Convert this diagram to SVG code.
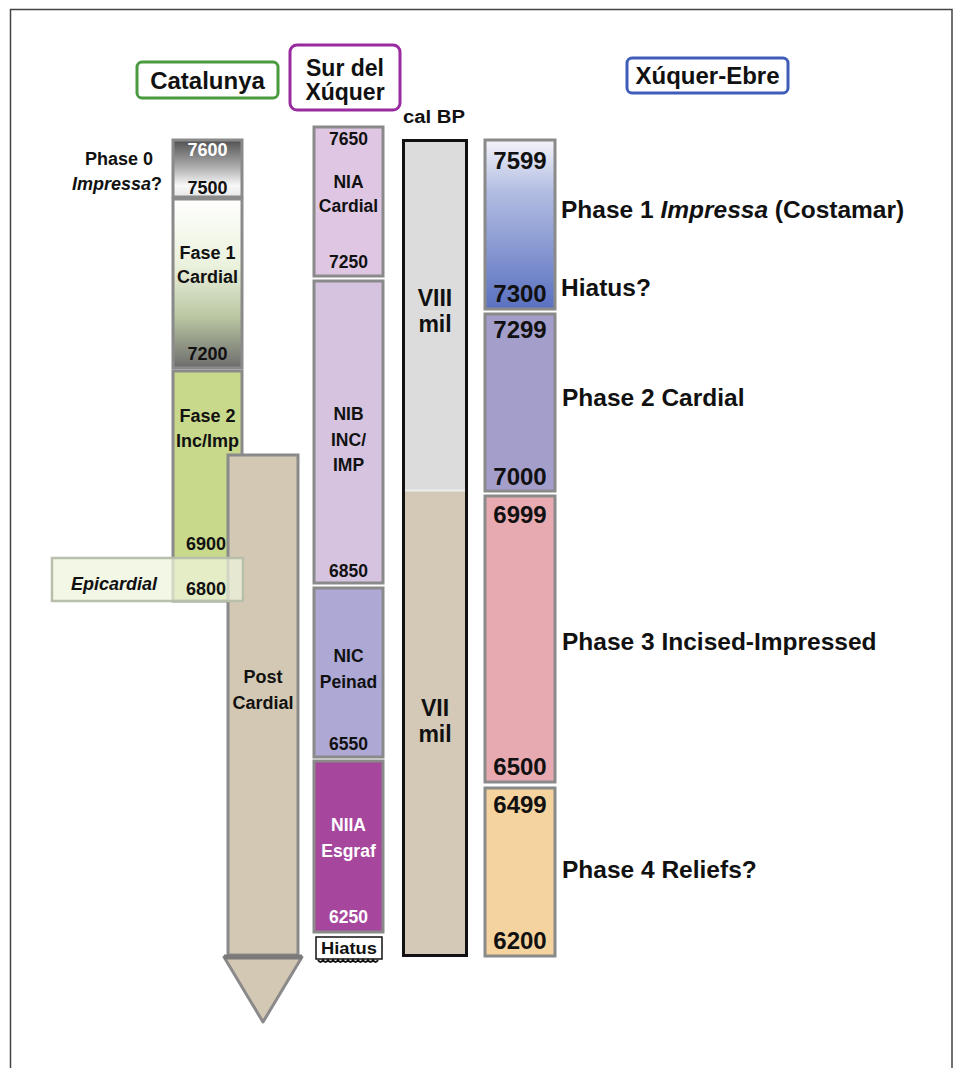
<svg xmlns="http://www.w3.org/2000/svg" width="954" height="1068" viewBox="0 0 954 1068">
<defs>
<linearGradient id="gP0" x1="0" y1="0" x2="0" y2="1">
<stop offset="0" stop-color="#505050"/><stop offset="0.45" stop-color="#a8a8a8"/><stop offset="0.8" stop-color="#f8f8f8"/><stop offset="1" stop-color="#e6e6e6"/>
</linearGradient>
<linearGradient id="gF1" x1="0" y1="0" x2="0" y2="1">
<stop offset="0" stop-color="#ffffff"/><stop offset="0.4" stop-color="#eaf1dc"/><stop offset="0.7" stop-color="#b9c6a2"/><stop offset="1" stop-color="#6c6c6c"/>
</linearGradient>
<linearGradient id="gX1" x1="0" y1="0" x2="0" y2="1">
<stop offset="0" stop-color="#f4f4fa"/><stop offset="0.3" stop-color="#b3bde2"/><stop offset="1" stop-color="#5a71c0"/>
</linearGradient>
<style>
text{font-family:"Liberation Sans",Arial,Helvetica,sans-serif;font-weight:bold;fill:#111}
.box{stroke:#8a8a8a;stroke-width:3}
.c{text-anchor:middle}
.s18{font-size:18px}
.s17{font-size:17.5px}
.s24{font-size:24px}
.s245{font-size:24.5px}
.s23{font-size:23px}
.w{fill:#fff}
.hdr{fill:#fff;stroke-width:3}
</style>
</defs>
<path d="M10.5 1068 V9.5 H952 V1068" fill="none" stroke="#444" stroke-width="1.5"/>

<g id="headers">
<rect x="137" y="62" width="141" height="36" rx="5" class="hdr" stroke="#4a9a40"/>
<text x="207.5" y="89" class="c s24">Catalunya</text>
<rect x="290" y="45" width="110" height="65" rx="7" class="hdr" stroke="#9a2aa0"/>
<text x="345" y="76" class="c s23">Sur del</text>
<text x="345" y="100" class="c s23">Xúquer</text>
<text x="434" y="123" class="c s18" textLength="62" lengthAdjust="spacingAndGlyphs">cal BP</text>
<rect x="627" y="58" width="161" height="35" rx="5" class="hdr" stroke="#3f5cb8"/>
<text x="707.5" y="84" class="c s24">Xúquer-Ebre</text>
</g>

<g id="catalunya">
<g id="cat-phase0">
<rect x="173" y="140" width="69" height="57" fill="url(#gP0)" class="box"/>
<text x="207.5" y="156" class="c s18 w">7600</text>
<text x="207.5" y="194" class="c s18">7500</text>
<text x="153" y="165" class="s18" text-anchor="end">Phase 0</text>
<text x="162" y="190" class="s18" text-anchor="end"><tspan font-style="italic">Impressa</tspan>?</text>
</g>
<g id="cat-fase1">
<rect x="173" y="199" width="69" height="169" fill="url(#gF1)" class="box"/>
<text x="207.5" y="259" class="c s18">Fase 1</text>
<text x="207.5" y="283" class="c s18">Cardial</text>
<text x="207.5" y="360" class="c s18">7200</text>
</g>
<g id="cat-fase2">
<rect x="173" y="371" width="69" height="230" fill="#c9d98c" class="box"/>
<text x="207.5" y="422" class="c s18">Fase 2</text>
<text x="207.5" y="447" class="c s18">Inc/Imp</text>
</g>
<g id="post-cardial">
<rect x="228" y="455" width="70" height="500" fill="#d3c8b4" class="box"/>
<path d="M224 957 H302 L263 1022 Z" fill="#d3c8b4" stroke="#8a8a8a" stroke-width="3" stroke-linejoin="round"/>
<line x1="224" y1="957" x2="302" y2="957" stroke="#7a7a7a" stroke-width="5"/>
<text x="263" y="683" class="c s18">Post</text>
<text x="263" y="709" class="c s18">Cardial</text>
</g>
<g id="epicardial">
<rect x="52" y="558" width="191" height="43" fill="#eef4dc" fill-opacity="0.72" stroke="#b8bfaa" stroke-width="2.5"/>
<text x="114" y="590" class="c s18" font-style="italic">Epicardial</text>
</g>
<text x="206" y="550" class="c s18">6900</text>
<text x="206" y="595" class="c s18">6800</text>
</g>

<g id="sur-del-xuquer">
<g id="nia">
<rect x="314" y="127" width="69" height="149" fill="#dfc7e3" class="box"/>
<text x="348.5" y="145" class="c s17">7650</text>
<text x="348.5" y="188" class="c s17">NIA</text>
<text x="348.5" y="212" class="c s17">Cardial</text>
<text x="348.5" y="268" class="c s17">7250</text>
</g>
<g id="nib">
<rect x="314" y="281" width="69" height="302" fill="#d5c3df" class="box"/>
<text x="348.5" y="420" class="c s17">NIB</text>
<text x="348.5" y="446" class="c s17">INC/</text>
<text x="348.5" y="471" class="c s17">IMP</text>
<text x="348.5" y="577" class="c s17">6850</text>
</g>
<g id="nic">
<rect x="314" y="588" width="69" height="169" fill="#aea8d5" class="box"/>
<text x="348.5" y="662" class="c s17">NIC</text>
<text x="348.5" y="688" class="c s17">Peinad</text>
<text x="348.5" y="750" class="c s17">6550</text>
</g>
<g id="niia">
<rect x="314" y="761" width="69" height="171" fill="#a6479d" class="box"/>
<text x="348.5" y="831" class="c s17 w">NIIA</text>
<text x="348.5" y="857" class="c s17 w">Esgraf</text>
<text x="348.5" y="923" class="c s17 w">6250</text>
</g>
<g id="hiatus-sur">
<rect x="316" y="937" width="66" height="22" fill="#fff" stroke="#111" stroke-width="1.5"/>
<path d="M318 960 q2.5 4 5 0 q2.5 4 5 0 q2.5 4 5 0 q2.5 4 5 0 q2.5 4 5 0 q2.5 4 5 0 q2.5 4 5 0 q2.5 4 5 0 q2.5 4 5 0 q2.5 4 5 0 q2.5 4 5 0 q2.5 4 5 0" fill="none" stroke="#111" stroke-width="2"/>
<text x="349" y="954" class="c" font-size="17" textLength="56" lengthAdjust="spacingAndGlyphs">Hiatus</text>
</g>
</g>

<g id="cal-bp">
<rect x="403.5" y="140.5" width="63" height="350" fill="#dcdcdc"/>
<rect x="403.5" y="490.5" width="63" height="465" fill="#d3c9b6"/>
<line x1="404" y1="490.5" x2="466" y2="490.5" stroke="#eeeeee" stroke-width="2"/>
<rect x="403.5" y="140.5" width="63" height="815" fill="none" stroke="#111" stroke-width="3"/>
<text x="435" y="306" class="c s23">VIII</text>
<text x="435" y="332" class="c s23">mil</text>
<text x="435" y="716" class="c s23">VII</text>
<text x="435" y="742" class="c s23">mil</text>
</g>

<g id="xuquer-ebre">
<g id="xe-phase1">
<rect x="485" y="140" width="70" height="169" fill="url(#gX1)" class="box"/>
<text x="520" y="169" class="c s24">7599</text>
<text x="520" y="302" class="c s24">7300</text>
<text x="561" y="218" class="s245">Phase 1 <tspan font-style="italic">Impressa</tspan> (Costamar)</text>
<text x="561" y="296" class="s245">Hiatus?</text>
</g>
<g id="xe-phase2">
<rect x="485" y="314" width="70" height="177" fill="#a49ecb" class="box"/>
<text x="520" y="338" class="c s24">7299</text>
<text x="520" y="485" class="c s24">7000</text>
<text x="562" y="406" class="s245">Phase 2 Cardial</text>
</g>
<g id="xe-phase3">
<rect x="485" y="496" width="70" height="286" fill="#e8aab1" class="box"/>
<text x="520" y="523" class="c s24">6999</text>
<text x="520" y="775" class="c s24">6500</text>
<text x="562" y="650" class="s245">Phase 3 Incised-Impressed</text>
</g>
<g id="xe-phase4">
<rect x="485" y="788" width="70" height="168" fill="#f4d39e" class="box"/>
<text x="520" y="813" class="c s24">6499</text>
<text x="520" y="949" class="c s24">6200</text>
<text x="562" y="878" class="s245">Phase 4 Reliefs?</text>
</g>
</g>
</svg>
